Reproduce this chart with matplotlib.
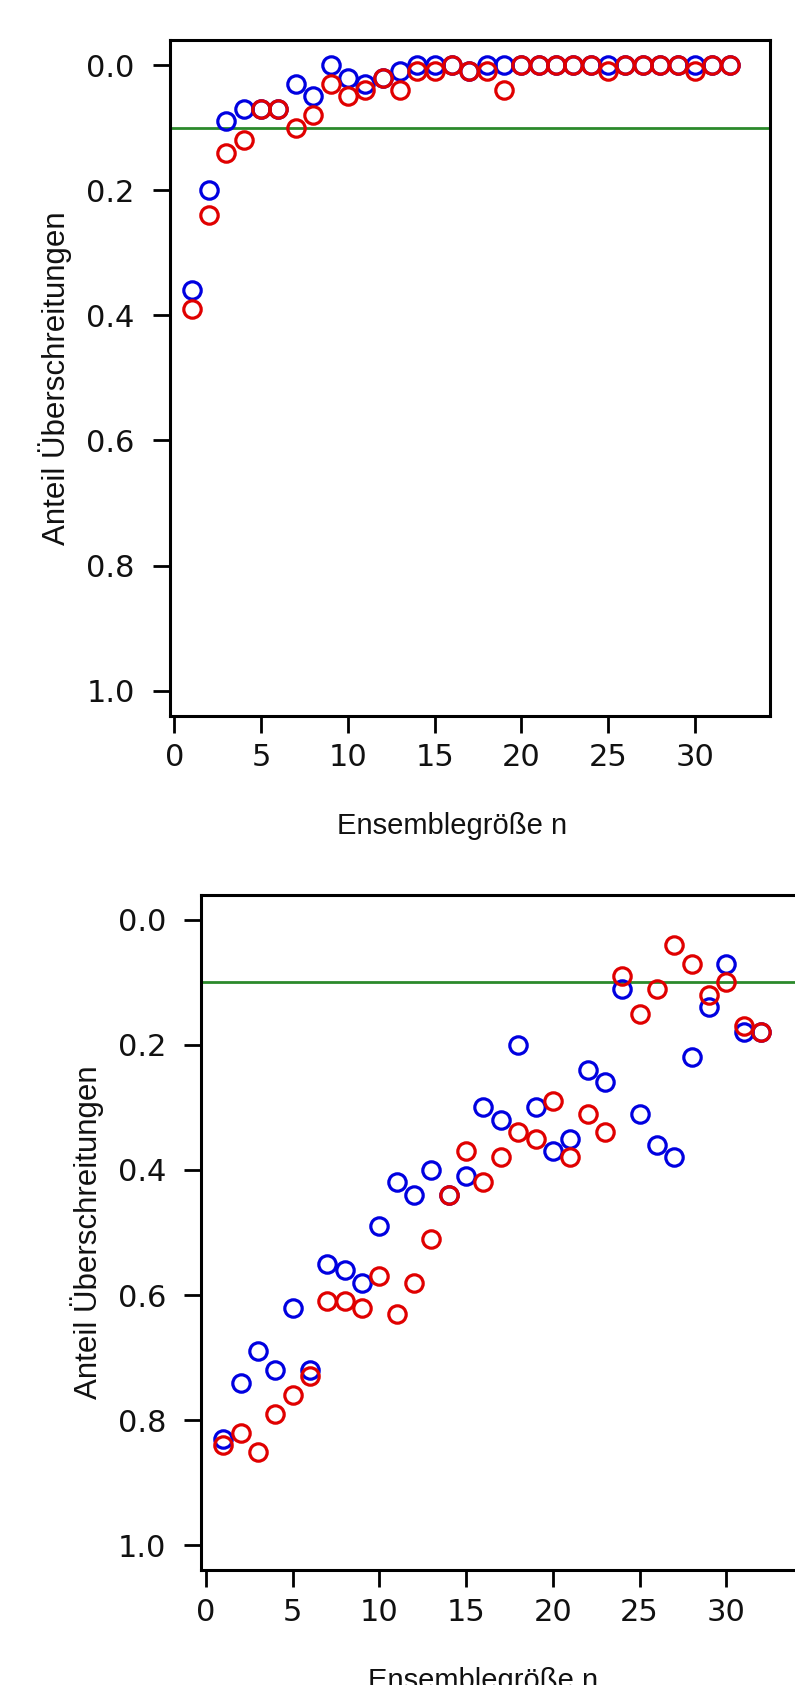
import matplotlib.pyplot as plt
import numpy as np

# Ensemblegroesse n
n = np.arange(1, 33)

# oberes Bild
top_blue = [0.36, 0.20, 0.09, 0.07, 0.07, 0.07, 0.03, 0.05, 0.00, 0.02,
            0.03, 0.02, 0.01, 0.00, 0.00, 0.00, 0.01, 0.00, 0.00, 0.00,
            0.00, 0.00, 0.00, 0.00, 0.00, 0.00, 0.00, 0.00, 0.00, 0.00,
            0.00, 0.00]
top_red = [0.39, 0.24, 0.14, 0.12, 0.07, 0.07, 0.10, 0.08, 0.03, 0.05,
           0.04, 0.02, 0.04, 0.01, 0.01, 0.00, 0.01, 0.01, 0.04, 0.00,
           0.00, 0.00, 0.00, 0.00, 0.01, 0.00, 0.00, 0.00, 0.00, 0.01,
           0.00, 0.00]

# unteres Bild
bot_blue = [0.83, 0.74, 0.69, 0.72, 0.62, 0.72, 0.55, 0.56, 0.58, 0.49,
            0.42, 0.44, 0.40, 0.44, 0.41, 0.30, 0.32, 0.20, 0.30, 0.37,
            0.35, 0.24, 0.26, 0.11, 0.31, 0.36, 0.38, 0.22, 0.14, 0.07,
            0.18, 0.18]
bot_red = [0.84, 0.82, 0.85, 0.79, 0.76, 0.73, 0.61, 0.61, 0.62, 0.57,
           0.63, 0.58, 0.51, 0.44, 0.37, 0.42, 0.38, 0.34, 0.35, 0.29,
           0.38, 0.31, 0.34, 0.09, 0.15, 0.11, 0.04, 0.07, 0.12, 0.10,
           0.17, 0.18]

threshold = 0.1
xticks = [0, 5, 10, 15, 20, 25, 30]
yticks = [0.0, 0.2, 0.4, 0.6, 0.8, 1.0]
xlab = 'Ensemblegröße n'
ylab = 'Anteil Überschreitungen'

W, H = 795, 1685
fig = plt.figure(figsize=(W / 100, H / 100), dpi=100)

# (left, top) of each plot box in pixels
boxes = [(169.5, 40.0), (201.0, 894.7)]
bw, bh = 600.5, 675.7
data = [(top_blue, top_red), (bot_blue, bot_red)]

for (x0, y0), (blue, red) in zip(boxes, data):
    ax = fig.add_axes([x0 / W, (H - y0 - bh) / H, bw / W, bh / H])
    ax.axhline(threshold, color='#2b8a2b', lw=2, zorder=1)
    ax.plot(n, blue, 'o', mfc='none', mec='#0000e0', ms=12.5, mew=2.3, zorder=2)
    ax.plot(n, red, 'o', mfc='none', mec='#e00000', ms=12.5, mew=2.3, zorder=3)
    ax.set_xlim(-0.28, 34.33)
    ax.set_ylim(1.04, -0.04)
    ax.set_xticks(xticks)
    ax.set_yticks(yticks)
    ax.set_yticklabels(['%.1f' % v for v in yticks])
    for s in ax.spines.values():
        s.set_linewidth(2.2)
    ax.tick_params(axis='both', direction='out', length=12, width=2,
                   labelsize=22, color='black')
    ax.tick_params(axis='x', pad=8)
    ax.tick_params(axis='y', pad=13)
    for lab in ax.get_xticklabels() + ax.get_yticklabels():
        lab.set_family('DejaVu Sans')
        lab.set_color('#111111')

    # Achsentitel
    fig.text((x0 + 282.5) / W, 1 - (y0 + 794) / H, xlab, ha='center',
             va='baseline', fontsize=21, family='Liberation Sans', color='#111111')
    fig.text((x0 - 114) / W, 1 - (y0 + bh / 2) / H, ylab, ha='center',
             va='center', rotation=90, fontsize=22.5, family='Liberation Sans',
             color='#111111')

fig.savefig('out.png', dpi=100, facecolor='white')
